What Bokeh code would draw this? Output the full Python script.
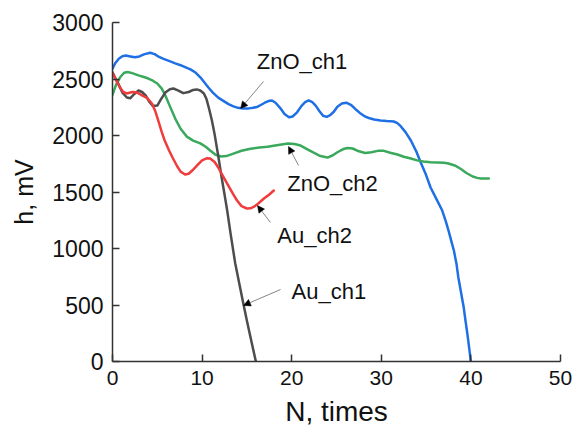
from bokeh.plotting import figure
from bokeh.models import Range1d, FixedTicker, Arrow, NormalHead, Label
from bokeh.embed import file_html
from bokeh.resources import INLINE

# ---- data -------------------------------------------------------------
zno_ch1_n = [0, 0.3, 0.7, 1.1, 1.5, 2.0, 2.5, 3.0, 3.5, 4.2, 4.7, 5.2, 5.7, 6.3,
             7.0, 7.6, 8.1, 8.7, 9.3, 9.8, 10.2, 10.7, 11.2, 11.8, 12.5, 13.0, 13.5,
             14.0, 14.6, 15.2, 15.7, 16.2, 16.6, 17.0, 17.4, 17.8, 18.2, 18.7, 19.2,
             19.7, 20.1, 20.6, 21.1, 21.5, 21.9, 22.3, 22.7, 23.1, 23.5, 23.9, 24.3,
             24.7, 25.1, 25.6, 26.1, 26.6, 27.1, 27.6, 28.1, 28.6, 29.2, 29.9, 30.6,
             31.4, 31.8, 32.1, 32.7, 33.3, 33.9, 34.4, 35.0, 35.5, 36.2, 36.8, 37.2,
             37.5, 37.8, 38.1, 38.4, 38.6, 38.9, 39.2, 39.4, 39.6, 39.8, 40.0]
zno_ch1_h = [2590, 2640, 2680, 2702, 2708, 2700, 2692, 2700, 2718, 2732, 2720, 2695,
             2678, 2660, 2638, 2622, 2605, 2585, 2555, 2515, 2475, 2425, 2380, 2335,
             2300, 2275, 2258, 2245, 2238, 2240, 2245, 2255, 2272, 2290, 2305, 2310,
             2290, 2245, 2190, 2162, 2168, 2205, 2262, 2295, 2310, 2295, 2262, 2215,
             2175, 2165, 2180, 2210, 2255, 2283, 2290, 2272, 2235, 2200, 2172, 2155,
             2142, 2133, 2128, 2124, 2110, 2088, 2030, 1956, 1860, 1761, 1650, 1540,
             1430, 1336, 1240, 1159, 1070, 982, 860, 743, 610, 478, 360, 248, 125, 0]

zno_ch2_n = [0, 0.4, 0.9, 1.3, 1.7, 2.2, 2.9, 3.5, 4.0, 4.5, 5.0, 5.5, 5.9, 6.4,
             7.0, 7.6, 8.3, 9.0, 9.8, 10.4, 10.9, 11.5, 12.1, 12.7, 13.5, 14.4, 15.4,
             16.4, 17.3, 18.5, 19.6, 20.3, 21.0, 21.7, 22.4, 23.2, 24.0, 24.6, 25.1,
             25.7, 26.2, 26.8, 27.5, 28.2, 28.9, 29.6, 30.2, 31.0, 31.8, 32.5, 33.3,
             34.0, 34.7, 35.5, 36.3, 37.0, 37.5, 38.2, 38.8, 39.5, 40.2, 40.7, 41.1,
             42.0]
zno_ch2_h = [2360, 2450, 2520, 2555, 2562, 2552, 2532, 2518, 2504, 2485, 2460, 2415,
             2354, 2260, 2150, 2060, 1990, 1955, 1930, 1900, 1867, 1830, 1814, 1818,
             1840, 1865, 1883, 1893, 1900, 1915, 1929, 1925, 1911, 1880, 1850, 1818,
             1805, 1825, 1852, 1878, 1890, 1885, 1860, 1845, 1852, 1864, 1866, 1848,
             1832, 1812, 1796, 1780, 1770, 1763, 1761, 1758, 1752, 1735, 1708, 1668,
             1637, 1625, 1620, 1620]

au_ch2_n = [0, 0.4, 0.8, 1.2, 1.6, 2.2, 2.6, 2.9, 3.4, 3.9, 4.4, 4.8, 5.1, 5.5,
            5.8, 6.3, 6.7, 7.2, 7.6, 8.1, 8.5, 8.9, 9.5, 10.0, 10.5, 10.9, 11.4,
            11.8, 12.3, 12.8, 13.4, 13.9, 14.4, 15.0, 15.4, 15.8, 16.3, 16.9, 17.5,
            18.0]
au_ch2_h = [2555, 2490, 2430, 2385, 2372, 2385, 2383, 2372, 2350, 2330, 2283, 2210,
            2133, 2030, 1960, 1870, 1805, 1730, 1680, 1655, 1662, 1690, 1740, 1780,
            1798, 1796, 1765, 1717, 1645, 1575, 1490, 1425, 1375, 1354, 1356, 1370,
            1400, 1442, 1478, 1513]

au_ch1_n = [0, 0.3, 0.7, 1.1, 1.6, 2.0, 2.4, 2.9, 3.3, 3.7, 4.1, 4.5, 5.0, 5.4,
            5.9, 6.4, 6.8, 7.3, 7.9, 8.5, 9.0, 9.4, 9.8, 10.2, 10.5, 10.8, 11.1,
            11.4, 11.8, 12.2, 12.5, 12.8, 13.2, 13.7, 14.2, 14.6, 15.0, 15.5, 16.0]
au_ch1_h = [2560, 2510, 2450, 2380, 2336, 2330, 2365, 2398, 2385, 2354, 2300, 2262,
            2265, 2320, 2381, 2410, 2416, 2400, 2375, 2385, 2403, 2408, 2398, 2372,
            2320, 2230, 2130, 2010, 1820, 1620, 1480, 1336, 1120, 867, 670, 513, 360,
            180, 0]

x_ticks = [0, 10, 20, 30, 40, 50]
y_ticks = [0, 500, 1000, 1500, 2000, 2500, 3000]

# ---- figure -----------------------------------------------------------
FONT = "Liberation Sans"

p = figure(width=579, height=430, output_backend="svg", toolbar_location=None,
           x_range=Range1d(0, 50), y_range=Range1d(0, 3000),
           min_border_left=112, min_border_right=19,
           min_border_top=22, min_border_bottom=69)
p.outline_line_color = None
p.grid.visible = False
p.background_fill_color = "white"
p.border_fill_color = "white"

for ax in (p.xaxis[0], p.yaxis[0]):
    ax.axis_line_color = "#333333"
    ax.axis_line_width = 1.5
    ax.major_tick_line_color = "#333333"
    ax.major_tick_line_width = 1.5
    ax.major_tick_in = 7
    ax.major_tick_out = 0
    ax.minor_tick_line_color = None
    ax.major_label_text_font = FONT
    ax.major_label_text_color = "#111111"
    ax.axis_label_text_font = FONT
    ax.axis_label_text_font_style = "normal"
    ax.axis_label_text_color = "#111111"

p.xaxis.ticker = FixedTicker(ticks=x_ticks)
p.yaxis.ticker = FixedTicker(ticks=y_ticks)
p.xaxis.major_label_text_font_size = "21px"
p.yaxis.major_label_text_font_size = "23px"
p.xaxis.axis_label = "N, times"
p.yaxis.axis_label = "h, mV"
p.xaxis.axis_label_text_font_size = "28px"
p.yaxis.axis_label_text_font_size = "25px"
p.xaxis.major_label_standoff = 9
p.yaxis.major_label_standoff = 9
p.xaxis.axis_label_standoff = 8
p.yaxis.axis_label_standoff = 11

# ---- curves -----------------------------------------------------------
LW = 2.5
style = dict(line_width=LW, line_join="round", line_cap="round")
p.line(zno_ch1_n, zno_ch1_h, line_color="#1f6fe5", **style)
p.line(zno_ch2_n, zno_ch2_h, line_color="#3aa95c", **style)
p.line(au_ch1_n, au_ch1_h, line_color="#4d4d4d", **style)
p.line(au_ch2_n, au_ch2_h, line_color="#f03c3c", **style)

# ---- annotations ------------------------------------------------------
notes = [
    # text, text x, text y, arrow tail x, tail y, arrow tip x, tip y
    ("ZnO_ch1", 16.1, 2655, 16.85, 2478, 14.3, 2239),
    ("ZnO_ch2", 19.5, 1575, 20.76, 1735, 19.64, 1903),
    ("Au_ch2", 18.4, 1115, 17.63, 1230, 16.18, 1380),
    ("Au_ch1", 19.98, 619, 18.75, 637, 14.62, 496),
]
for text, tx, ty, ax0, ay0, ax1, ay1 in notes:
    p.add_layout(Arrow(x_start=ax0, y_start=ay0, x_end=ax1, y_end=ay1,
                       line_color="#666666", line_width=0.8,
                       end=NormalHead(size=7, fill_color="black",
                                      line_color="black", line_width=0.5)))
    p.add_layout(Label(x=tx, y=ty, text=text, text_font=FONT,
                       text_font_size="22px", text_color="#111111",
                       text_baseline="middle", text_align="left"))

open("out.html", "w").write(file_html(p, INLINE))
